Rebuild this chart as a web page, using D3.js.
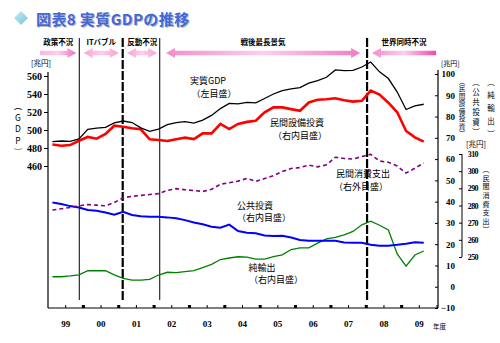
<!DOCTYPE html>
<html>
<head>
<meta charset="utf-8">
<script src="https://cdn.jsdelivr.net/npm/d3@7"></script>
<style>
  body { margin: 0; background: #fff; }
  svg { display: block; font-family: "Noto Sans CJK JP", sans-serif; }
  .num { font-family: "Liberation Serif", serif; font-weight: bold; }
  .vt { writing-mode: vertical-rl; text-orientation: upright; }
</style>
</head>
<body>
<svg id="chart" width="500" height="343"></svg>
<script>
// quarterly data, FY1999 Q1 .. FY2009 Q3 (trillion yen)
const years = ['99', '00', '01', '02', '03', '04', '05', '06', '07', '08', '09'];
const gdp = [487.0, 487.8, 487.4, 490.0, 500.7, 502.1, 502.9, 508.0, 510.0, 508.3, 502.4,
  498.4, 500.9, 506.0, 508.3, 509.2, 507.7, 510.9, 516.2, 523.8, 529.6, 529.0, 530.8,
  530.1, 535.0, 540.0, 543.8, 545.7, 547.2, 552.0, 554.8, 558.6, 566.7, 565.9, 566.3,
  570.0, 575.6, 564.6, 557.2, 542.2, 522.8, 526.7, 528.6];
const capex = [66.9, 66.3, 66.6, 68.6, 70.4, 69.6, 71.8, 75.7, 75.2, 74.5, 74.0, 69.3,
  69.0, 68.5, 69.3, 70.1, 69.4, 72.1, 72.1, 76.5, 74.1, 76.5, 77.5, 78.0, 82.0, 84.3,
  84.3, 83.5, 82.7, 86.6, 87.9, 88.1, 88.6, 87.7, 87.0, 87.4, 92.2, 90.3, 86.5, 82.0,
  73.2, 70.2, 68.2];
const consumption = [277.4, 278.1, 278.8, 279.8, 280.6, 280.2, 279.8, 281.7, 284.5, 285.3,
  285.9, 286.4, 286.9, 288.8, 289.8, 289.2, 288.7, 288.2, 289.4, 292.4, 293.3, 294.2,
  295.8, 294.0, 295.7, 297.4, 299.8, 301.6, 302.1, 303.5, 302.5, 303.7, 308.1, 307.4,
  307.1, 308.5, 309.8, 305.9, 305.2, 303.0, 298.9, 301.7, 304.7];
const publicInv = [39.6, 38.9, 37.9, 37.2, 36.1, 35.7, 34.9, 33.9, 35.2, 33.7, 33.1, 32.9,
  32.9, 32.6, 32.2, 31.3, 30.2, 29.4, 28.2, 27.7, 29.2, 26.2, 25.4, 25.1, 24.1, 23.9,
  24.0, 23.1, 22.0, 21.6, 21.6, 21.6, 21.6, 20.8, 20.7, 20.7, 19.7, 19.3, 19.3, 19.7,
  20.2, 20.9, 20.7];
const netExports = [4.7, 4.7, 5.1, 5.6, 7.5, 7.5, 7.5, 5.6, 3.9, 3.1, 3.1, 3.5, 5.5, 6.8,
  6.6, 7.1, 7.6, 9.0, 10.5, 12.8, 13.5, 14.1, 13.9, 13.0, 13.0, 14.2, 15.0, 17.5, 18.3,
  18.3, 20.5, 22.5, 23.2, 24.4, 26.0, 29.1, 30.8, 28.9, 26.7, 15.4, 9.7, 14.9, 16.8];

const leftTicks = [460, 480, 500, 520, 540, 560];
const innerTicks = [-10, 0, 10, 20, 30, 40, 50, 60, 70, 80, 90, 100];
const outerTicks = [250, 260, 270, 280, 290, 300, 310];

// business cycle phases, in quarters from FY1999 Q1
const phases = [
  { name: '政策不況', from: -0.9, to: 3.2, left: false, right: true, c0: '#f9b6dc', c1: '#f26fbf' },
  { name: 'ITバブル', from: 4.05, to: 8.0, left: true, right: true, c0: '#f7a3d3', c1: '#f7a3d3' },
  { name: '反動不況', from: 8.95, to: 12.35, left: true, right: true, c0: '#f7a3d3', c1: '#f7a3d3' },
  { name: '戦後最長景気', from: 13.35, to: 35.3, left: true, right: true, c0: '#f48cc9', c1: '#f27cc3' },
  { name: '世界同時不況', from: 36.65, to: 43.9, left: true, right: false, c0: '#f48cc9', c1: '#ee48b0' }
];
const turns = [
  { q: 3.54, dashed: false },
  { q: 8.45, dashed: true },
  { q: 12.64, dashed: false },
  { q: 36.09, dashed: true }
];

const svg = d3.select('#chart');

let x = d3.scaleLinear().domain([0, 44]).range([48, 437]);
let yL = d3.scaleLinear().domain([460, 560]).range([166, 76]);
let yR = d3.scaleLinear().domain([-10, 100]).range([308, 74]);
let yO = d3.scaleLinear().domain([250, 310]).range([257, 154]);

// title
let defs = svg.append('defs');
let dg = defs.append('linearGradient').attr('id', 'dia')
  .attr('x1', 0).attr('y1', 0).attr('x2', 1).attr('y2', 1);
dg.append('stop').attr('offset', 0).attr('stop-color', '#c4ecf4');
dg.append('stop').attr('offset', 1).attr('stop-color', '#78c4d8');
svg.append('path')
  .attr('d', 'M21,11 L28,18 L21,25 L14,18 Z')
  .attr('fill', 'url(#dia)');
svg.append('text')
  .attr('x', 36).attr('y', 25)
  .attr('font-size', 15).attr('font-weight', 'bold')
  .attr('letter-spacing', 0.4)
  .attr('fill', '#b8bcc8')
  .attr('transform', 'translate(1.2,1.2)')
  .text('図表8 実質GDPの推移');
svg.append('text')
  .attr('x', 36).attr('y', 25)
  .attr('font-size', 15).attr('font-weight', 'bold')
  .attr('letter-spacing', 0.4)
  .attr('fill', '#4467d6')
  .text('図表8 実質GDPの推移');

// phase arrows
phases.forEach((p, i) => {
  let g = defs.append('linearGradient').attr('id', 'arr' + i);
  g.append('stop').attr('offset', 0).attr('stop-color', p.c0);
  g.append('stop').attr('offset', 0.5).attr('stop-color', '#fcd0ea');
  g.append('stop').attr('offset', 1).attr('stop-color', p.c1);

  let x0 = x(p.from), x1 = x(p.to), cy = 53, bh = 2.2, hh = 5, hl = 9;
  let pts = [];
  if (p.left) {
    pts.push([x0, cy], [x0 + hl, cy - hh], [x0 + hl, cy - bh]);
  } else {
    pts.push([x0, cy - bh]);
  }
  if (p.right) {
    pts.push([x1 - hl, cy - bh], [x1 - hl, cy - hh], [x1, cy], [x1 - hl, cy + hh], [x1 - hl, cy + bh]);
  } else {
    pts.push([x1, cy - bh], [x1, cy + bh]);
  }
  if (p.left) {
    pts.push([x0 + hl, cy + bh], [x0 + hl, cy + hh]);
  } else {
    pts.push([x0, cy + bh]);
  }
  svg.append('path')
    .attr('d', 'M' + pts.map(d => d.join(',')).join('L') + 'Z')
    .attr('fill', 'url(#arr' + i + ')');

  svg.append('text')
    .attr('x', (Math.max(x0, 40) + x1) / 2).attr('y', 45)
    .attr('text-anchor', 'middle')
    .attr('font-size', 7.5).attr('font-weight', 'bold')
    .text(p.name);
});

// turning points
svg.selectAll('.turn')
  .data(turns).enter()
  .append('line')
  .attr('class', 'turn')
  .attr('x1', d => x(d.q)).attr('x2', d => x(d.q))
  .attr('y1', 38).attr('y2', 300)
  .attr('stroke', '#000')
  .attr('stroke-width', d => d.dashed ? 2.2 : 1)
  .attr('stroke-dasharray', d => d.dashed ? '9,2' : null);

// series
function drawLine(values, y, color, width, dash) {
  svg.append('path')
    .datum(values)
    .attr('d', d3.line().x((d, i) => x(i + 0.5)).y(d => y(d)))
    .attr('fill', 'none')
    .attr('stroke', color)
    .attr('stroke-width', width)
    .attr('stroke-dasharray', dash);
}
drawLine(netExports, yR, '#008000', 1.3, null);
drawLine(publicInv, yR, '#0000ff', 2, null);
drawLine(consumption, yO, '#800080', 1.6, '4,3');
drawLine(capex, yR, '#ff0000', 2.6, null);
drawLine(gdp, yL, '#000', 1.3, null);

// left axis
let la = svg.append('g').attr('transform', 'translate(48,0)')
  .call(d3.axisLeft(yL).tickValues(leftTicks).tickSize(4).tickPadding(2));
la.select('.domain').remove();
la.selectAll('text').attr('class', 'num').attr('font-size', 10).attr('font-family', null);
svg.append('line').attr('x1', 48).attr('x2', 48).attr('y1', 72).attr('y2', 308)
  .attr('stroke', '#000').attr('stroke-width', 1.2);

// inner right axis
let ra = svg.append('g').attr('transform', 'translate(438,0)')
  .call(d3.axisRight(yR).tickValues(innerTicks).tickSize(-3).tickPadding(17)
    .tickFormat(d => d < 0 ? '−' + (-d) : d));
ra.select('.domain').remove();
ra.selectAll('text').attr('class', 'num').attr('font-size', 9).attr('font-family', null)
  .attr('text-anchor', 'end');
svg.append('line').attr('x1', 438).attr('x2', 438).attr('y1', 70).attr('y2', 308)
  .attr('stroke', '#000').attr('stroke-width', 1.2);

// outer right axis
let oa = svg.append('g').attr('transform', 'translate(462,0)')
  .call(d3.axisRight(yO).tickValues(outerTicks).tickSize(-3).tickPadding(16));
oa.select('.domain').remove();
oa.selectAll('text').attr('class', 'num').attr('font-size', 8).attr('font-family', null)
  .attr('text-anchor', 'end').attr('letter-spacing', -0.6);
svg.append('line').attr('x1', 462).attr('x2', 462).attr('y1', 154).attr('y2', 257)
  .attr('stroke', '#000').attr('stroke-width', 1);

// bottom axis
svg.append('line').attr('x1', 48).attr('x2', 438).attr('y1', 308).attr('y2', 308)
  .attr('stroke', '#000').attr('stroke-width', 1.2);
svg.selectAll('.ytick')
  .data(years).enter()
  .append('line')
  .attr('x1', (d, i) => x(i * 4 + 2)).attr('x2', (d, i) => x(i * 4 + 2))
  .attr('y1', 308).attr('y2', 305)
  .attr('stroke', '#000');
svg.append('line').attr('x1', x(44)).attr('x2', x(44)).attr('y1', 308).attr('y2', 305)
  .attr('stroke', '#000');
svg.selectAll('.ymark')
  .data(years.slice(1)).enter()
  .append('rect')
  .attr('x', (d, i) => x((i + 1) * 4) - 1.5).attr('y', 305)
  .attr('width', 3).attr('height', 3)
  .attr('fill', '#000');
svg.selectAll('.ylab')
  .data(years).enter()
  .append('text')
  .attr('class', 'num')
  .attr('x', (d, i) => x(i * 4 + 2)).attr('y', 327)
  .attr('text-anchor', 'middle')
  .attr('font-size', 9)
  .text(d => d);
svg.append('text').attr('x', 433).attr('y', 329).attr('font-size', 6.5).text('年度');

// unit labels
svg.append('text').attr('x', 31).attr('y', 66).attr('font-size', 7.5).text('[兆円]');
svg.append('text').attr('x', 441).attr('y', 65.5).attr('font-size', 7).text('[兆円]');
svg.append('text').attr('x', 466).attr('y', 147).attr('font-size', 7.5).text('[兆円]');

// vertical axis titles
function vtext(str, cx, y0, size, spacing) {
  svg.append('text')
    .attr('class', 'vt')
    .attr('x', cx).attr('y', y0)
    .attr('font-size', size)
    .attr('letter-spacing', spacing)
    .text(str);
}
vtext('︵GDP︶', 18, 102, 8.5, 3);
vtext('︵民間設備投資︶', 462, 78, 6.5, 1);
vtext('︵公共投資︶', 476, 78, 7.5, 2.5);
vtext('︵純輸出︶', 491, 78, 7.5, 5.5);
vtext('︵民間消費支出︶', 486, 166, 7, 1.6);

// series labels
const notes = [
  ['実質GDP', 208, 84], ['（左目盛）', 214, 97],
  ['民間設備投資', 297, 126], ['（右内目盛）', 300, 138.5],
  ['民間消費支出', 363, 177], ['（右外目盛）', 361, 189.5],
  ['公共投資', 255, 209], ['（右内目盛）', 264, 221],
  ['純輸出', 262, 271], ['（右内目盛）', 276, 283]
];
svg.selectAll('.note')
  .data(notes).enter()
  .append('text')
  .attr('x', d => d[1]).attr('y', d => d[2])
  .attr('text-anchor', 'middle')
  .attr('font-size', 9)
  .text(d => d[0]);
</script>
</body>
</html>
